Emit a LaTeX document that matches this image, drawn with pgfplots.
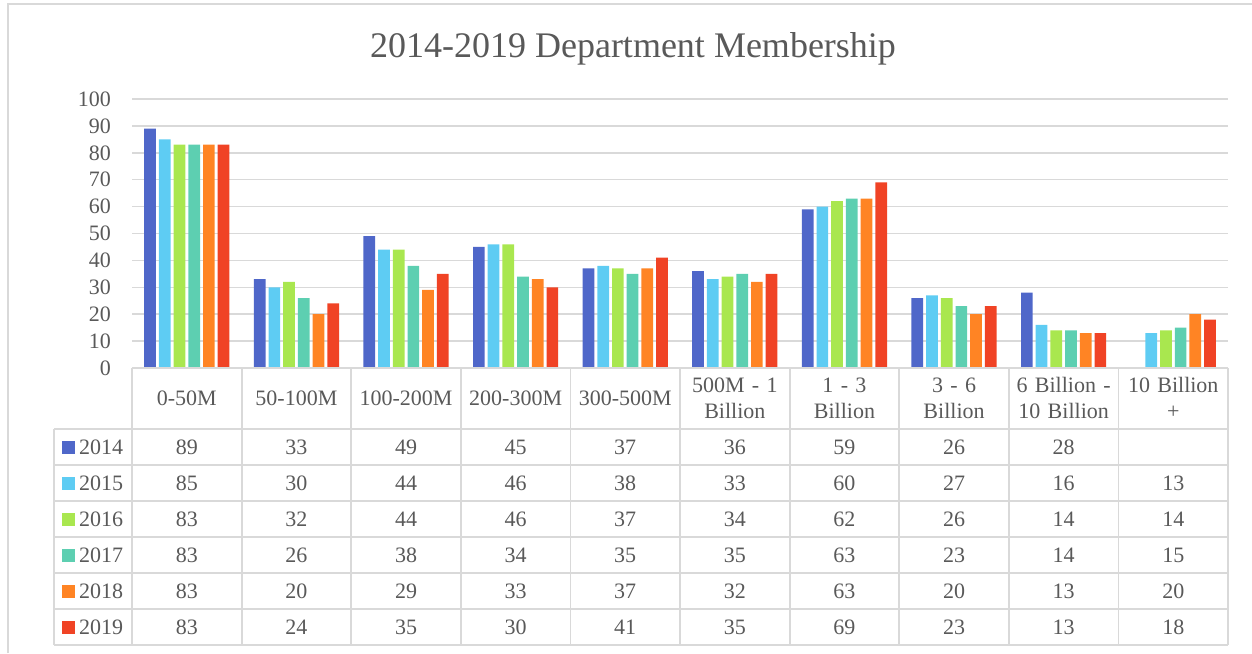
\documentclass[border=0pt]{standalone}
\usepackage{pgfplots}
\pgfplotsset{compat=1.18}
\usepackage{pgfplotstable}
\usepackage{fontspec}
\setmainfont{Liberation Serif}

\definecolor{c14}{HTML}{4F67C9}
\definecolor{c15}{HTML}{5ECCF3}
\definecolor{c16}{HTML}{A9E74F}
\definecolor{c17}{HTML}{5DCFB1}
\definecolor{c18}{HTML}{FF8424}
\definecolor{c19}{HTML}{F04325}
\definecolor{txt}{HTML}{595959}
\definecolor{lin}{HTML}{D9D9D9}

\newcommand\tf{\fontsize{22}{26}\selectfont}

\pgfplotstableread{
cat y2014 y2015 y2016 y2017 y2018 y2019
0 89 85 83 83 83 83
1 33 30 32 26 20 24
2 49 44 44 38 29 35
3 45 46 46 34 33 30
4 37 38 37 35 37 41
5 36 33 34 35 32 35
6 59 60 62 63 63 69
7 26 27 26 23 20 23
8 28 16 14 14 13 13
9 nan 13 14 15 20 18
}\datatable

\begin{document}
\begin{tikzpicture}
% outer border
\draw[lin, line width=1.5pt] (8pt,-653pt) -- (8pt,-4pt) -- (1252pt,-4pt);
% title
\node[anchor=base, text=txt, font=\fontsize{36}{42}\selectfont, inner sep=0pt] at (633pt,-57pt) {2014-2019 Department Membership};

\begin{axis}[
  at={(132pt,-368pt)}, anchor=south west,
  scale only axis, width=1096pt, height=269pt,
  xmin=-0.5, xmax=9.5, ymin=0, ymax=100,
  clip=false,
  axis line style={draw=none},
  tick style={draw=none},
  major tick length=0pt,
  ytick={0,10,...,100},
  ymajorgrids,
  grid style={lin, line width=1.5pt},
  yticklabel style={font=\tf, text=txt, anchor=east, inner sep=0pt, xshift=-21pt},
  xtick={0,...,9},
  xticklabels={0-50M,50-100M,100-200M,200-300M,300-500M,500M - 1\\Billion,1 - 3\\Billion,3 - 6\\Billion,6 Billion -\\10 Billion,10 Billion\\+},
  xticklabel style={font=\tf, text=txt, anchor=center, inner sep=0pt, align=center, text width=106pt, yshift=-30pt},
  /pgf/number format/assume math mode=true,
]
\addplot[ybar, bar width=11.7pt, bar shift=-36.75pt, fill=c14, draw=none] table[x=cat, y=y2014] {\datatable};
\addplot[ybar, bar width=11.7pt, bar shift=-22.05pt, fill=c15, draw=none] table[x=cat, y=y2015] {\datatable};
\addplot[ybar, bar width=11.7pt, bar shift=-7.35pt, fill=c16, draw=none] table[x=cat, y=y2016] {\datatable};
\addplot[ybar, bar width=11.7pt, bar shift=7.35pt, fill=c17, draw=none] table[x=cat, y=y2017] {\datatable};
\addplot[ybar, bar width=11.7pt, bar shift=22.05pt, fill=c18, draw=none] table[x=cat, y=y2018] {\datatable};
\addplot[ybar, bar width=11.7pt, bar shift=36.75pt, fill=c19, draw=none] table[x=cat, y=y2019] {\datatable};

\pgfplotsset{tabtext/.style={draw=none, mark=none, point meta=explicit, nodes near coords,
  nodes near coords align={center},
  every node near coord/.append style={font=\tf, text=txt, anchor=center, inner sep=0pt}}}
\addplot[tabtext] table[x=cat, y expr=\thisrow{y2014}*0-29.37, meta=y2014] {\datatable};
\addplot[tabtext] table[x=cat, y expr=\thisrow{y2015}*0-42.75, meta=y2015] {\datatable};
\addplot[tabtext] table[x=cat, y expr=\thisrow{y2016}*0-56.13, meta=y2016] {\datatable};
\addplot[tabtext] table[x=cat, y expr=\thisrow{y2017}*0-69.52, meta=y2017] {\datatable};
\addplot[tabtext] table[x=cat, y expr=\thisrow{y2018}*0-82.90, meta=y2018] {\datatable};
\addplot[tabtext] table[x=cat, y expr=\thisrow{y2019}*0-96.28, meta=y2019] {\datatable};
\end{axis}

% table lines
\begin{scope}[lin, line width=1.8pt]
\draw (132pt,-368pt) -- (1228pt,-368pt);
\foreach \y in {429,465,501,537,573,609,645} \draw (54pt,-\y pt) -- (1228pt,-\y pt);
\draw (54pt,-429pt) -- (54pt,-645pt);
\foreach \x in {132,241.6,351.2,460.8,570.4,680,789.6,899.2,1008.8,1118.4,1228} \draw (\x pt,-368pt) -- (\x pt,-645pt);
\end{scope}
% legend column
\foreach \c/\yr/\yc in {c14/2014/447,c15/2015/483,c16/2016/519,c17/2017/555,c18/2018/591,c19/2019/627}{
  \fill[\c] (62pt,-\yc pt+6.5pt) rectangle (75pt,-\yc pt-6.5pt);
  \node[anchor=west, inner sep=0pt, text=txt, font=\tf] at (79pt,-\yc pt) {\yr};
}

\pgfresetboundingbox
\path[use as bounding box] (0pt,0pt) rectangle (1252pt,-653pt);
\end{tikzpicture}
\end{document}
